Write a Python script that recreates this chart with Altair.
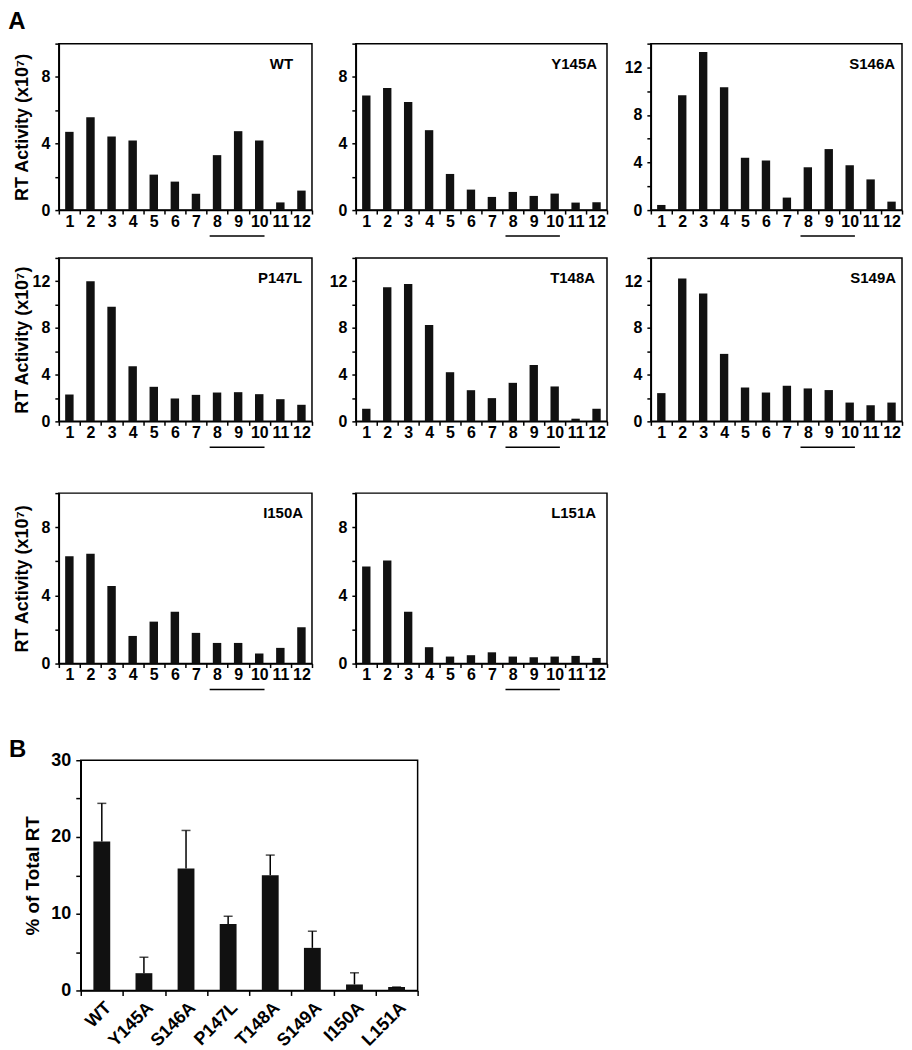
import altair as alt
import pandas as pd

FONT = "Liberation Sans, Arial, sans-serif"

# ---------------- data ----------------
fractions = list(range(1, 13))
panel_names = ["WT", "Y145A", "S146A", "P147L", "T148A", "S149A", "I150A", "L151A"]

wt    = [4.70, 5.57, 4.42, 4.18, 2.13, 1.71, 0.98, 3.30, 4.74, 4.18, 0.46, 1.17]
y145a = [6.88, 7.33, 6.50, 4.80, 2.17, 1.23, 0.79, 1.09, 0.85, 0.99, 0.45, 0.47]
s146a = [0.43, 9.65, 13.30, 10.33, 4.40, 4.17, 1.05, 3.60, 5.13, 3.77, 2.58, 0.71]
p147l = [2.30, 12.00, 9.81, 4.72, 2.96, 1.96, 2.27, 2.47, 2.50, 2.33, 1.90, 1.42]
t148a = [1.08, 11.49, 11.77, 8.25, 4.21, 2.67, 1.99, 3.30, 4.83, 2.99, 0.23, 1.08]
s149a = [2.42, 12.23, 10.96, 5.78, 2.90, 2.47, 3.05, 2.82, 2.68, 1.61, 1.38, 1.61]
i150a = [6.30, 6.44, 4.55, 1.62, 2.46, 3.04, 1.80, 1.21, 1.21, 0.59, 0.92, 2.13]
l151a = [5.70, 6.05, 3.04, 0.96, 0.41, 0.49, 0.66, 0.41, 0.37, 0.41, 0.45, 0.33]
panel_values = [wt, y145a, s146a, p147l, t148a, s149a, i150a, l151a]
y_max = [10, 10, 14, 14, 14, 14, 10, 10]
pooled_start, pooled_end = 8, 10

pct_total = [19.4, 2.25, 15.9, 8.67, 15.0, 5.55, 0.78, 0.45]
pct_err = [4.98, 2.08, 4.95, 1.00, 2.64, 2.17, 1.52, 0.0]

# ---------------- styling ----------------
col_widths = [254, 252, 252]
row_heights = [167, 164, 171]
label_inset = [19, 10, 7, 10, 12, 6, 9, 11]
BAR = "#111111"


def panel(idx, col, height, width):
    name = panel_names[idx]
    ymax = y_max[idx]
    df = pd.DataFrame({"fraction": fractions, "activity": panel_values[idx]})
    xscale = alt.Scale(domain=fractions, paddingInner=0, paddingOuter=0)
    xaxis = alt.Axis(title=None, labelAngle=0, tickBand="extent", labelFontSize=16,
                     labelPadding=-1, tickSize=4)
    yaxis = alt.Axis(values=list(range(0, ymax + 1, 2)),
                     labelExpr="datum.value % 4 === 0 ? datum.label : ''",
                     labelFontSize=16, tickSize=4, labelPadding=5,
                     minExtent=22, maxExtent=22,
                     title="RT Activity (x10\u2077)" if col == 0 else None,
                     titleFontSize=18, titlePadding=5)
    bars = alt.Chart(df).mark_bar(color=BAR, width=alt.RelativeBandSize(0.4)).encode(
        x=alt.X("fraction:O", scale=xscale, axis=xaxis),
        y=alt.Y("activity:Q", scale=alt.Scale(domain=[0, ymax], nice=False), axis=yaxis),
    )
    under = alt.Chart(pd.DataFrame({"fraction": [pooled_start], "fraction_end": [pooled_end]})).mark_rule(
        color="black", strokeWidth=1.5).encode(
        x=alt.X("fraction:O", scale=xscale, axis=xaxis, bandPosition=0.15),
        x2=alt.X2("fraction_end", bandPosition=0.75),
        y=alt.value(height + 26),
    )
    lab = alt.Chart(pd.DataFrame({"name": [name]})).mark_text(
        align="right", baseline="middle", fontSize=15, fontWeight="bold", font=FONT, color="black"
    ).encode(x=alt.value(width - label_inset[idx]), y=alt.value(20), text="name:N")
    layers = [bars, under, lab]
    if col == 0:
        # invisible left-edge marker so that every first-column panel has the same left bound
        marker = alt.Chart(pd.DataFrame({"t": ["A"]})).mark_text(
            align="left", baseline="middle", fontSize=24, fontWeight="bold", font=FONT, opacity=0
        ).encode(x=alt.value(-50), y=alt.value(height / 2), text="t:N")
        layers.append(marker)
    return alt.layer(*layers).properties(width=width, height=height)


rows = []
layout = [[0, 1, 2], [3, 4, 5], [6, 7]]
for r, idxs in enumerate(layout):
    charts = [panel(i, c, row_heights[r], col_widths[c]) for c, i in enumerate(idxs)]
    rows.append(alt.hconcat(*charts, spacing=44, bounds="flush"))

# ---------------- panel B ----------------
dfb = pd.DataFrame({
    "mutant": panel_names,
    "pct": pct_total,
    "upper": [v + e for v, e in zip(pct_total, pct_err)],
})
bx_scale = alt.Scale(domain=panel_names, paddingInner=0, paddingOuter=0)
bx_axis = alt.Axis(title=None, labelAngle=-45, tickBand="extent", labelFontSize=18,
                   labelPadding=3, tickSize=5)
by_axis = alt.Axis(values=list(range(0, 31, 5)),
                   labelExpr="datum.value % 10 === 0 ? datum.label : ''",
                   labelFontSize=18, tickSize=5, labelPadding=5,
                   title="% of Total RT", titleFontSize=19, titlePadding=8)
bx = alt.X("mutant:N", scale=bx_scale, axis=bx_axis, sort=panel_names)
by_scale = alt.Scale(domain=[0, 30], nice=False)

b_bars = alt.Chart(dfb).mark_bar(color=BAR, width=alt.RelativeBandSize(0.4)).encode(
    x=bx, y=alt.Y("pct:Q", scale=by_scale, axis=by_axis))
b_err = alt.Chart(dfb).mark_rule(color="black", strokeWidth=1.5).encode(
    x=bx, y=alt.Y("pct:Q", scale=by_scale, axis=by_axis), y2="upper:Q")
b_cap = alt.Chart(dfb).mark_tick(color="black", size=9, thickness=1.5).encode(
    x=bx, y=alt.Y("upper:Q", scale=by_scale, axis=by_axis))
b_letter = alt.Chart(pd.DataFrame({"t": ["B"]})).mark_text(
    align="left", baseline="alphabetic", fontSize=24, fontWeight="bold", font=FONT, color="black"
).encode(x=alt.value(-72), y=alt.value(-3), text="t:N")
panel_b = alt.layer(b_bars, b_err, b_cap, b_letter).properties(width=338, height=231)

spacer = alt.Chart(pd.DataFrame({"t": [""]})).mark_text(opacity=0).encode(
    x=alt.value(0), y=alt.value(0), text="t:N"
).properties(width=1, height=231, view=alt.ViewBackground(stroke="transparent"))
row_b = alt.hconcat(spacer, panel_b, spacing=21, bounds="flush")

top = alt.vconcat(alt.vconcat(rows[0], rows[1], spacing=18), rows[2], spacing=42)
chart = alt.vconcat(top, row_b, spacing=46).properties(
    padding=0,
    title=alt.TitleParams("A", anchor="start", frame="bounds", fontSize=24, fontWeight="bold",
                          font=FONT, color="black", offset=8),
).configure(
    font=FONT
).configure_axis(
    domainColor="black", domainWidth=1.5, tickColor="black", tickWidth=1.5,
    labelFont=FONT, labelFontWeight="bold", labelColor="black",
    titleFont=FONT, titleFontWeight="bold", titleColor="black", grid=False,
).configure_view(stroke="black", strokeWidth=1.5)

chart.save("out.html", embed_options={"renderer": "svg", "actions": False})
